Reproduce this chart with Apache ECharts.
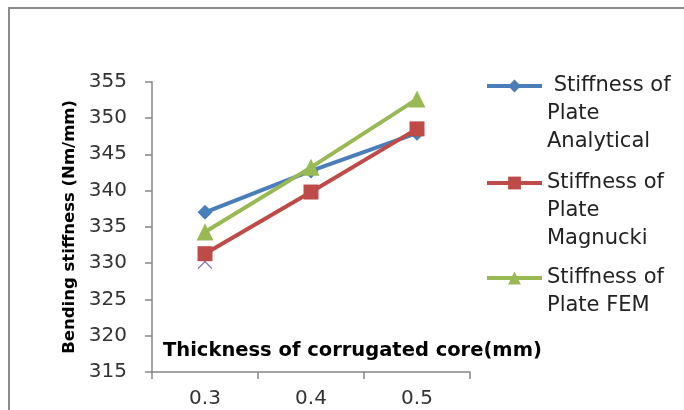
<!DOCTYPE html>
<html><head><meta charset="utf-8">
<script src="https://cdn.jsdelivr.net/npm/echarts@6/dist/echarts.min.js"></script>
<style>html,body{margin:0;padding:0;background:#fff}#c{width:684px;height:410px}</style>
</head><body><div id="c"></div>
<script>
const categories = ['0.3', '0.4', '0.5'];
const analytical = [337.0, 342.7, 347.9];
const magnucki = [331.3, 339.8, 348.5];
const fem = [334.3, 343.2, 352.6];
const extraPoint = [330.2, null, null];
const seriesNames = [' Stiffness of\nPlate\nAnalytical', 'Stiffness of\nPlate\nMagnucki', 'Stiffness of\nPlate FEM'];
const xTitle = 'Thickness of corrugated core(mm)';
const yTitle = 'Bending stiffness (Nm/mm)';

const font = 'DejaVu Sans';
const chart = echarts.init(document.getElementById('c'), null, {renderer: 'canvas'});
function legendFor(i, top) {
  return {
    data: [seriesNames[i]], left: 485, top: top, padding: 0, orient: 'vertical',
    itemWidth: 55, itemHeight: 16, selectedMode: false,
    lineStyle: {width: 4},
    formatter: function (n) {
      const lines = n.split('\n').length;
      return '\n'.repeat(lines - 1) + n;
    },
    textStyle: {fontFamily: font, fontSize: 21, lineHeight: 28, color: '#222'}
  };
}
chart.setOption({
  animation: false,
  backgroundColor: '#fff',
  graphic: [
    {type: 'polyline', shape: {points: [[9, 420], [9, 8], [700, 8]]}, style: {fill: 'none', stroke: '#8c8c8c', lineWidth: 2}, z: -1},
    {type: 'text', left: 163, top: 341, style: {text: xTitle, font: 'bold 19.5px "DejaVu Sans"', fill: '#000'}}
  ],
  legend: [legendFor(0, 16), legendFor(1, 113), legendFor(2, 236)],
  grid: {left: 152, top: 81.7, right: 214, bottom: 38, containLabel: false},
  xAxis: {
    type: 'category', data: categories, boundaryGap: true,
    axisLine: {lineStyle: {color: '#868686', width: 1.5}},
    axisTick: {show: true, length: 7, lineStyle: {color: '#868686', width: 1.5}},
    axisLabel: {fontFamily: font, fontSize: 20, color: '#333', margin: 17},
    splitLine: {show: false}
  },
  yAxis: {
    type: 'value', min: 315, max: 355, interval: 5,
    name: yTitle, nameLocation: 'middle', nameRotate: 90, nameGap: 74,
    nameTextStyle: {fontFamily: font, fontSize: 16.5, fontWeight: 'bold', color: '#000'},
    axisLine: {show: true, lineStyle: {color: '#868686', width: 1.5}},
    axisTick: {show: true, length: 7, lineStyle: {color: '#868686', width: 1.5}},
    axisLabel: {fontFamily: font, fontSize: 20, color: '#333', margin: 25},
    splitLine: {show: false}
  },
  series: [
    {name: 'extra', type: 'line', data: extraPoint, symbol: 'path://M0,0L10,10M10,0L0,10', symbolSize: 14,
     itemStyle: {color: 'none', borderColor: '#8064A2', borderWidth: 1.2}, lineStyle: {width: 0}, z: 1},
    {name: seriesNames[0], type: 'line', data: analytical, symbol: 'diamond', symbolSize: 15,
     itemStyle: {color: '#4A7EBB'}, lineStyle: {color: '#4A7EBB', width: 4}, z: 2},
    {name: seriesNames[1], type: 'line', data: magnucki, symbol: 'rect', symbolSize: 15,
     itemStyle: {color: '#BE4B48'}, lineStyle: {color: '#BE4B48', width: 4}, z: 3},
    {name: seriesNames[2], type: 'line', data: fem, symbol: 'triangle', symbolSize: 17,
     itemStyle: {color: '#98B954'}, lineStyle: {color: '#98B954', width: 4}, z: 4}
  ]
});
</script></body></html>
